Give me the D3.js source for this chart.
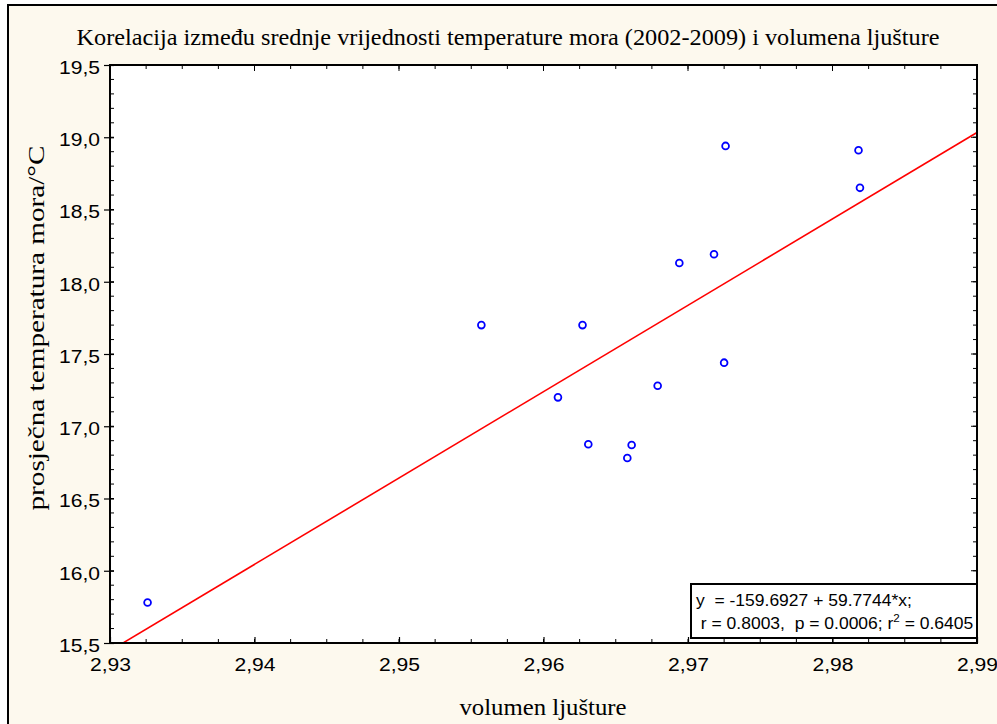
<!DOCTYPE html>
<html><head><meta charset="utf-8">
<script src="https://cdn.jsdelivr.net/npm/d3@7"></script>
<style>html,body{margin:0;padding:0;background:#fff;}</style>
</head><body>
<svg id="c" width="997" height="724"></svg>
<script>
const volumen = [2.9326, 2.9557, 2.9627, 2.9610, 2.9631, 2.9661, 2.9658, 2.9679, 2.9694, 2.9718, 2.9725, 2.9726, 2.9818, 2.9819];
const temperatura = [15.78, 17.70, 17.70, 17.20, 16.875, 16.87, 16.78, 17.28, 18.13, 18.19, 17.44, 18.94, 18.91, 18.65];
const xTicks = [2.93, 2.94, 2.95, 2.96, 2.97, 2.98, 2.99];
const yTicks = [15.5, 16.0, 16.5, 17.0, 17.5, 18.0, 18.5, 19.0, 19.5];
const intercept = -159.6927, slope = 59.7744;
const titleText = "Korelacija između srednje vrijednosti temperature mora (2002-2009) i volumena ljušture";
const xLabel = "volumen ljušture";
const yLabel = "prosječna temperatura mora/°C";
const eqLine1 = "y  = -159.6927 + 59.7744*x;";
const eqLine2a = " r = 0.8003,  p = 0.0006; r";
const eqLine2b = " = 0.6405";

const svg = d3.select("#c");
const L = 110, R = 977, T = 65, B = 643;
const x = d3.scaleLinear().domain([2.93, 2.99]).range([L, R]);
const y = d3.scaleLinear().domain([15.5, 19.5]).range([B, T]);
const fmt = d => d3.format(".2f")(d).replace(".", ",");
const fmtY = d => d3.format(".1f")(d).replace(".", ",");
const SANS = "Liberation Sans, Arial, sans-serif";
const SERIF = "Liberation Serif, Times New Roman, serif";

// outer frame
svg.append("rect").attr("x", 8).attr("y", 5).attr("width", 1000).attr("height", 730)
  .attr("fill", "#fdf9ee").attr("stroke", "#000").attr("stroke-width", 2);

// plot area
svg.append("rect").attr("x", L).attr("y", T).attr("width", R - L).attr("height", B - T).attr("fill", "#fff");

svg.append("defs").append("clipPath").attr("id", "clip")
  .append("rect").attr("x", L).attr("y", T).attr("width", R - L).attr("height", B - T);

// minor ticks
const xMinor = d3.range(0, 25).map(i => 2.93 + i * 0.0025);
const yMinor = d3.range(0, 41).map(i => 15.5 + i * 0.1);
const g = svg.append("g").attr("stroke", "#000").attr("stroke-width", 1);
xMinor.forEach(v => {
  g.append("line").attr("x1", x(v)).attr("x2", x(v)).attr("y1", B).attr("y2", B - 4);
  g.append("line").attr("x1", x(v)).attr("x2", x(v)).attr("y1", T).attr("y2", T + 4);
});
yMinor.forEach(v => {
  g.append("line").attr("x1", L).attr("x2", L + 4).attr("y1", y(v)).attr("y2", y(v));
  g.append("line").attr("x1", R).attr("x2", R - 4).attr("y1", y(v)).attr("y2", y(v));
});

// axes
const xAxis = svg.append("g").attr("transform", `translate(0,${B})`)
  .call(d3.axisBottom(x).tickValues(xTicks).tickFormat(fmt).tickSizeInner(-6).tickSizeOuter(0).tickPadding(15));
const yAxis = svg.append("g").attr("transform", `translate(${L},0)`)
  .call(d3.axisLeft(y).tickValues(yTicks).tickFormat(fmtY).tickSizeInner(6).tickSizeOuter(0).tickPadding(4));
const TS = 1.14;
[xAxis, yAxis].forEach(a => {
  a.select(".domain").remove();
  a.selectAll("text").attr("font-family", SANS).attr("font-size", 18.5).attr("fill", "#000")
    .attr("transform", function () {
      const ax = +(d3.select(this).attr("x") || 0);
      return `translate(${ax},0) scale(${TS},1) translate(${-ax},0)`;
    });
  a.selectAll("line").attr("stroke", "#000").attr("stroke-width", 1.2);
});
yAxis.selectAll(".tick text").attr("dy", "0.45em");
yAxis.selectAll(".tick line").attr("x2", -6).attr("x1", 4);
// top/right major ticks
xTicks.forEach(v => g.append("line").attr("x1", x(v)).attr("x2", x(v)).attr("y1", T).attr("y2", T + 6));
yTicks.forEach(v => g.append("line").attr("x1", R).attr("x2", R - 6).attr("y1", y(v)).attr("y2", y(v)));

// regression line
svg.append("line").attr("clip-path", "url(#clip)")
  .attr("x1", x(2.93)).attr("y1", y(intercept + slope * 2.93))
  .attr("x2", x(2.99)).attr("y2", y(intercept + slope * 2.99))
  .attr("stroke", "#ff0000").attr("stroke-width", 1.6);

// points
svg.append("g").selectAll("circle").data(volumen).join("circle")
  .attr("cx", d => x(d)).attr("cy", (d, i) => y(temperatura[i])).attr("r", 3.4)
  .attr("fill", "none").attr("stroke", "#0000ff").attr("stroke-width", 1.8);

// plot border
svg.append("rect").attr("x", L).attr("y", T).attr("width", R - L).attr("height", B - T)
  .attr("fill", "none").attr("stroke", "#000").attr("stroke-width", 2);

// equation box
const bx = 691, by = 584, bw = R - bx, bh = 54;
svg.append("rect").attr("x", bx).attr("y", by).attr("width", bw).attr("height", bh)
  .attr("fill", "#fff").attr("stroke", "#000").attr("stroke-width", 2);
const eq = svg.append("g").attr("font-family", SANS).attr("font-size", 16.5).attr("fill", "#000")
  .attr("transform", `translate(${bx + 5},0) scale(1.06,1) translate(${-(bx + 5)},0)`);
eq.append("text").attr("x", bx + 5).attr("y", by + 22).style("white-space", "pre").text(eqLine1);
const t2 = eq.append("text").attr("x", bx + 5).attr("y", by + 45).style("white-space", "pre");
t2.append("tspan").text(eqLine2a);
t2.append("tspan").attr("font-size", 11).attr("dy", -7).text("2");
t2.append("tspan").attr("dy", 7).text(eqLine2b);

// titles
svg.append("text").attr("x", 508).attr("y", 45).attr("text-anchor", "middle")
  .attr("font-family", SERIF).attr("font-size", 23)
  .attr("textLength", 863).attr("lengthAdjust", "spacingAndGlyphs").text(titleText);
svg.append("text").attr("x", 543).attr("y", 715).attr("text-anchor", "middle")
  .attr("font-family", SERIF).attr("font-size", 23)
  .attr("textLength", 167).attr("lengthAdjust", "spacingAndGlyphs").text(xLabel);
svg.append("text").attr("transform", "translate(44,328) rotate(-90)").attr("text-anchor", "middle")
  .attr("font-family", SERIF).attr("font-size", 23)
  .attr("textLength", 365).attr("lengthAdjust", "spacingAndGlyphs").text(yLabel);
</script>
</body></html>
